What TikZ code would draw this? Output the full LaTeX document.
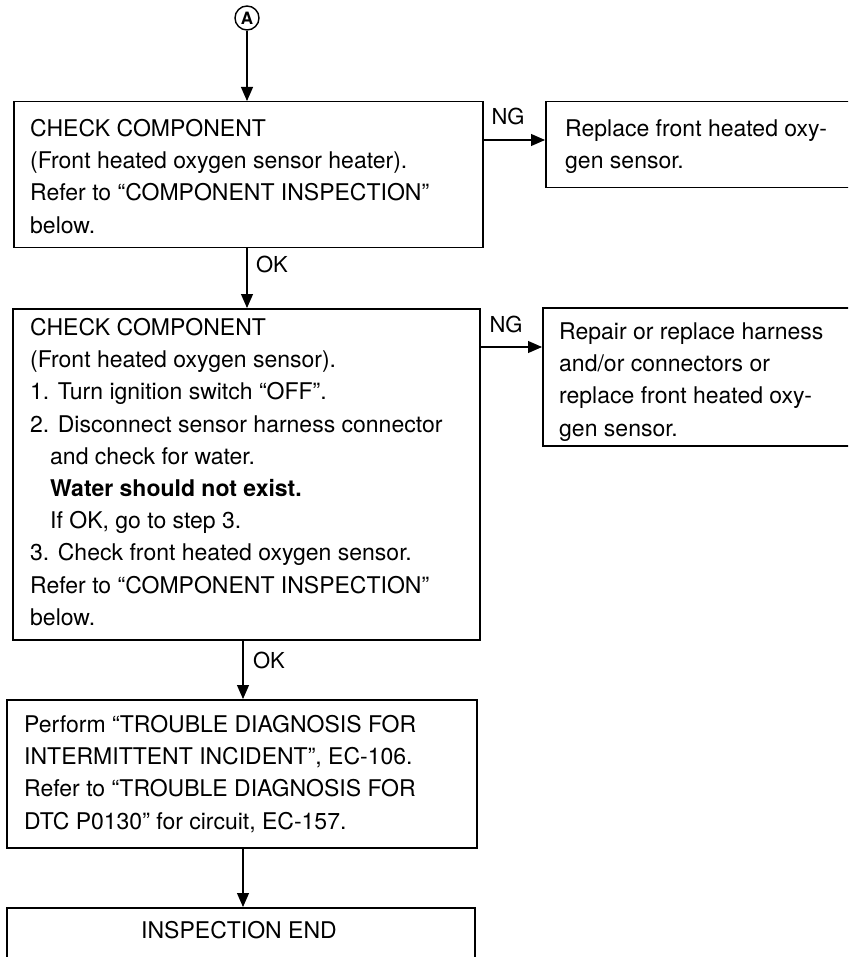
\documentclass[tikz,border=0pt]{standalone}
\usepackage{fontspec}
\setmainfont{TeX Gyre Heros}
\usetikzlibrary{arrows.meta,calc}
\begin{document}
\begin{tikzpicture}[x=1pt,y=-1pt,
  box/.style={draw, line width=1.5pt, rectangle, inner sep=0pt, anchor=north west},
  txt/.style={anchor=north west, inner sep=0pt, align=left, font=\fontsize{23}{32.2}\selectfont},
  lbl/.style={inner sep=0pt, font=\fontsize{22}{24}\selectfont},
  conn/.style={line width=1.1pt, -{Triangle[length=14pt,width=12pt]}}]
\useasboundingbox (0,0) rectangle (848,957);
\clip (0,0) rectangle (848,957);
% circle A
\node[draw, circle, line width=1.4pt, inner sep=0pt, minimum size=24pt, font=\bfseries\fontsize{17}{19}\selectfont] (ca) at (247,18) {A};
% boxes
\node[box, minimum width=469pt, minimum height=146pt] (b1) at (13,101) {};
\node[box, minimum width=320pt, minimum height=86pt] (b2) at (545,101) {};
\node[box, minimum width=467pt, minimum height=331pt] (b3) at (12,308) {};
\node[box, minimum width=320pt, minimum height=138pt] (b4) at (542,307) {};
\node[box, minimum width=470pt, minimum height=148pt] (b5) at (6,699) {};
\node[box, minimum width=468pt, minimum height=80pt] (b6) at (6,907) {};
% texts
\node[txt] (t1) at (30,118.25) {\rule{0pt}{18pt}CHECK COMPONENT\\(Front heated oxygen sensor heater).\\Refer to “COMPONENT INSPECTION”\\below.};
\node[txt] (t2) at (565,118.25) {\rule{0pt}{18pt}Replace front heated oxy-\\gen sensor.};
\node[txt] (t3) at (30,317.25) {\rule{0pt}{18pt}CHECK COMPONENT\\(Front heated oxygen sensor).\\1. Turn ignition switch “OFF”.\\2. Disconnect sensor harness connector\\\hspace*{20pt}and check for water.\\\hspace*{20pt}\textbf{Water should not exist.}\\\hspace*{20pt}If OK, go to step 3.\\3. Check front heated oxygen sensor.\\Refer to “COMPONENT INSPECTION”\\below.};
\node[txt] (t4) at (559,321.25) {\rule{0pt}{18pt}Repair or replace harness\\and/or connectors or\\replace front heated oxy-\\gen sensor.};
\node[txt] (t5) at (24,714.25) {\rule{0pt}{18pt}Perform “TROUBLE DIAGNOSIS FOR\\INTERMITTENT INCIDENT”, EC-106.\\Refer to “TROUBLE DIAGNOSIS FOR\\DTC P0130” for circuit, EC-157.};
\node[txt, anchor=north] (t6) at (239,920.25) {\rule{0pt}{18pt}INSPECTION END};
% labels
\node[lbl] (ng1) at (508,116) {NG};
\node[lbl] (ng2) at (506,324) {NG};
\node[lbl] (ok1) at (272,264) {OK};
\node[lbl] (ok2) at (269,660) {OK};
% helper coordinates
\coordinate (n1) at (0,140);
\coordinate (n2) at (0,347);
\coordinate (x2) at (243,0);
% connectors
\draw[conn] (ca.south) -- (ca.south |- b1.north);
\draw[conn] (b1.south -| ca) -- (b3.north -| ca);
\draw[conn] (b1.east |- n1) -- (b2.west |- n1);
\draw[conn] (b3.east |- n2) -- (b4.west |- n2);
\draw[conn] (b3.south -| x2) -- (b5.north -| x2);
\draw[conn] (b5.south -| x2) -- (b6.north -| x2);
\end{tikzpicture}
\end{document}
